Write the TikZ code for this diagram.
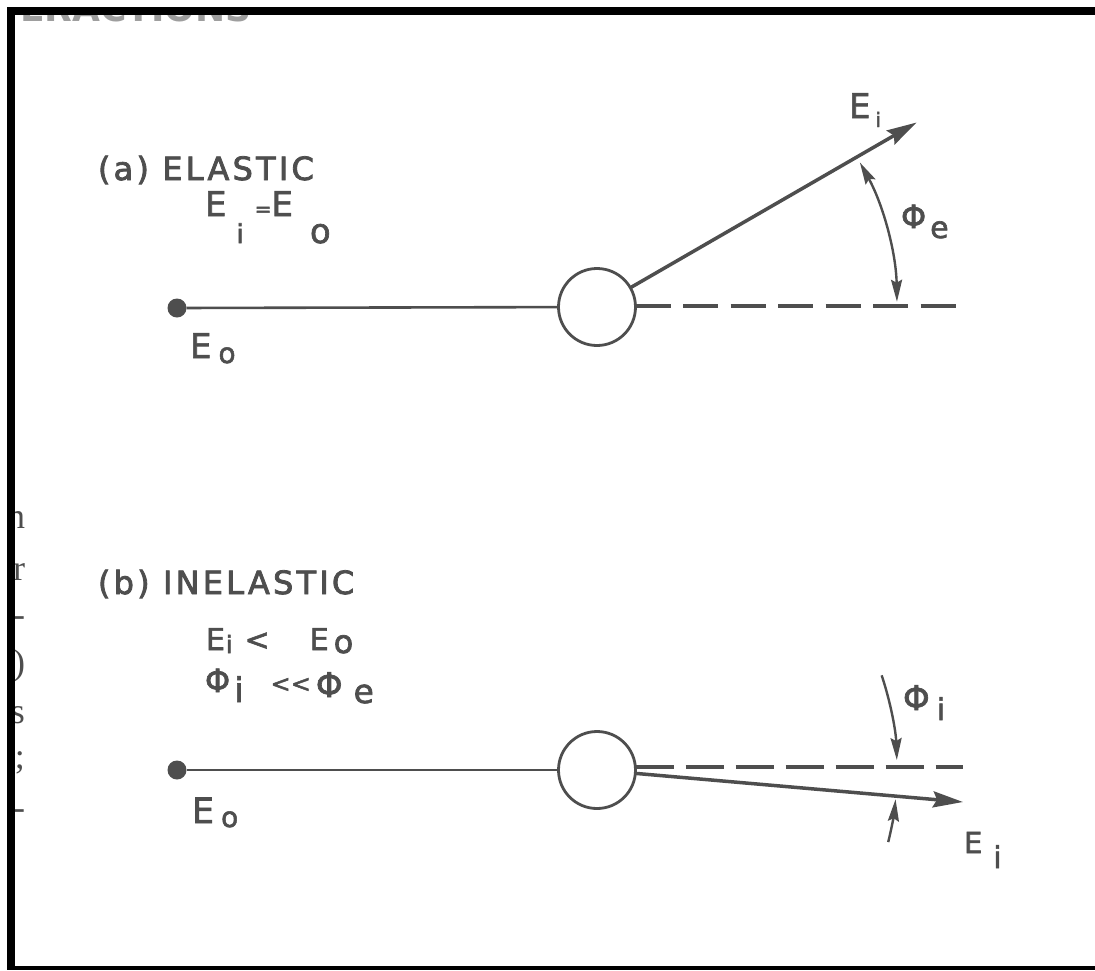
\documentclass[tikz,border=0pt]{standalone}
\usepackage{fontspec}
\setmainfont{DejaVu Sans}[FakeBold=2]
\newfontfamily\seriffrag{Liberation Serif}
\newfontfamily\spacedfont{DejaVu Sans}[LetterSpace=10,FakeBold=2.5]
\newfontfamily\headfont{DejaVu Sans Bold}
\usetikzlibrary{arrows.meta,calc}
\definecolor{ink}{RGB}{78,78,78}
\newcommand\lo[3]{\raisebox{-#1pt}{\fontsize{#2}{#2}\selectfont #3}}
\tikzset{sharp/.tip={Stealth[length=22pt,width=11pt,inset=3pt]},
         bigtip/.tip={Stealth[length=30pt,width=16pt,inset=4pt]}}
\begin{document}
\begin{tikzpicture}[x=1pt,y=1pt,
  every node/.style={inner sep=0pt, outer sep=0pt, text=ink},
  lbl/.style={anchor=base west},
  ttl/.style={anchor=base west, font=\spacedfont\fontsize{32}{32}\selectfont},
  frag/.style={anchor=base east, font=\seriffrag\fontsize{36}{36}\selectfont, text=ink},
  wire/.style={draw=ink, line width=2.6pt},
  raypath/.style={draw=ink, line width=3.5pt, -{bigtip}},
  dashline/.style={draw=ink, line width=3.6pt},
  anglearrow/.style={draw=ink, line width=2.4pt},
  enddot/.style={circle, fill=ink, minimum size=19pt},
  atom/.style={circle, draw=ink, line width=2.8pt, fill=white, minimum size=77pt}]
\useasboundingbox (0,0) rectangle (1095,-970);
\fill[white] (0,0) rectangle (1095,-970);

% cut-off heading and margin fragments of the scanned page
\node[anchor=base west, font=\headfont\fontsize{36}{36}\selectfont, text=ink!55] (head) at (20,-21) {ERACTIONS};
\node[frag] (f1) at (25,-528) {n};
\node[frag] (f2) at (25,-580) {r};
\node[frag] (f3) at (25,-626) {-};
\node[frag] (f4) at (25,-674) {)};
\node[frag] (f5) at (25,-723) {s};
\node[frag] (f6) at (25,-768) {;};
\node[frag] (f7) at (25,-819) {-};

% ---------------- (a) elastic ----------------
\node[ttl] (ta) at (98,-180) {(a) ELASTIC};
\node[lbl, font=\fontsize{34}{34}\selectfont] (eqa) at (205,-216)
  {E\hspace{10pt}\lo{27}{26}{i}\hspace{11pt}{\fontsize{20}{20}\selectfont =}\hspace{0pt}E\hspace{17pt}\lo{27}{34}{o}};
\node[enddot] (da) at (177,-308) {};
\node[lbl, font=\fontsize{34}{34}\selectfont] (eoa) at (190,-358) {E\hspace{7pt}\lo{5}{28}{o}};
\node[atom] (ca) at (597,-307) {};
\coordinate (tipa) at (916.6,-122.5);
\coordinate (enda) at (960,-306);
\draw[wire] (da) -- (ca);
\draw[raypath] (ca.30) -- (tipa);
\draw[dashline, dash pattern=on 35pt off 12.5pt] ([yshift=1pt]ca.east) -- (enda);
\draw[anglearrow, {sharp}-{sharp}] ($(ca.center)+(1:300)$) arc[start angle=1, end angle=28.8, radius=300];
\node[lbl, font=\fontsize{34}{34}\selectfont] (eia) at (849,-118) {E\hspace{5pt}\lo{9}{20}{i}};
\node[lbl, font=\fontsize{32}{32}\selectfont] (phe) at (901,-228) {Φ\hspace{4pt}\lo{10}{30}{e}};

% ---------------- (b) inelastic ----------------
\node[ttl] (tb) at (98,-594) {(b) INELASTIC};
\node[lbl, font=\fontsize{30}{30}\selectfont] (eqb1) at (206,-650)
  {E\hspace{1pt}\lo{3}{24}{i}\hspace{12pt}<\hspace{40pt}E\hspace{5pt}\lo{3}{32}{o}};
\node[lbl, font=\fontsize{32}{32}\selectfont] (eqb2) at (205,-692)
  {Φ\hspace{4pt}\lo{10}{34}{i}\hspace{27pt}{\fontsize{24}{24}\selectfont\mbox{<}\mbox{<}}\hspace{5pt}\raisebox{-5pt}{\fontsize{34}{34}\selectfont Φ}\hspace{11pt}\lo{11}{33}{e}};
\node[enddot] (db) at (177,-770) {};
\node[lbl, font=\fontsize{35}{35}\selectfont] (eob) at (192,-823) {E\hspace{7pt}\lo{4}{28}{o}};
\node[atom] (cb) at (597,-770) {};
\coordinate (tipb) at (963,-802);
\coordinate (endb) at (963,-767);
\draw[wire] (db) -- (cb);
\draw[dashline, dash pattern=on 38pt off 12pt] ([yshift=3pt]cb.east) -- (endb);
\draw[raypath] (cb.-5) -- (tipb);
\draw[anglearrow, -{sharp}] ($(cb.center)+(18.4:300)$) arc[start angle=18.4, end angle=1.9, radius=300];
\draw[anglearrow, -{sharp}] ($(cb.center)+(-13.9:300)$) arc[start angle=-13.9, end angle=-5.6, radius=300];
\node[lbl, font=\fontsize{34}{34}\selectfont] (phi) at (903,-710) {Φ\hspace{7pt}\lo{10}{30}{i}};
\node[lbl, font=\fontsize{29}{29}\selectfont] (eib) at (964,-853) {E\hspace{11pt}\lo{15}{30}{i}};

% frame
\fill[white] (0,0) rectangle (1095,-7);
\fill[black] (7,-7) rectangle (1095,-15);
\fill[black] (7,-7) rectangle (15,-970);
\fill[black] (15,-966) rectangle (1095,-970);
\end{tikzpicture}
\end{document}
